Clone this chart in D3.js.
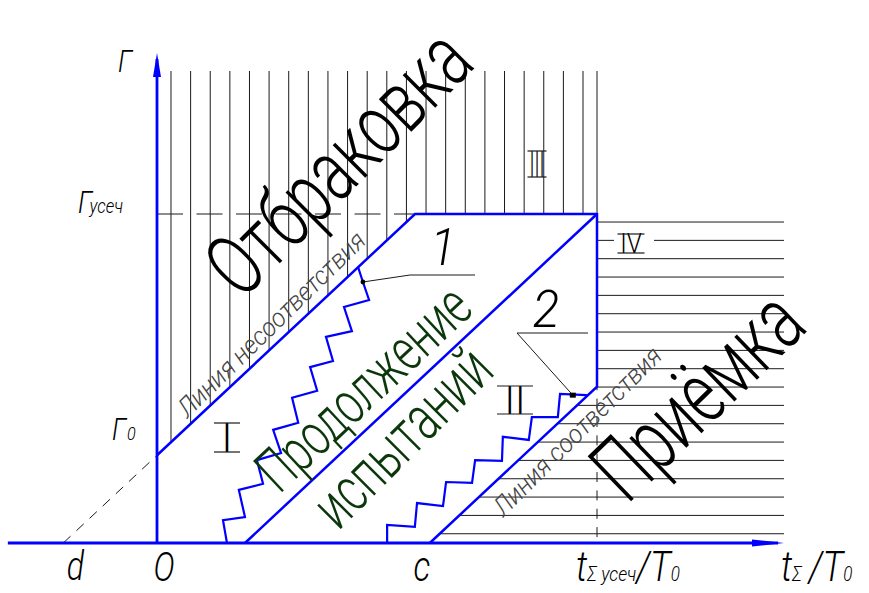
<!DOCTYPE html>
<html><head><meta charset="utf-8">
<script src="https://cdn.jsdelivr.net/npm/d3@7"></script>
<style>body{margin:0;background:#fff}</style>
</head><body>
<svg id="chart" width="869" height="593"></svg>
<script>
// ---- values on the chart (t/T0 along x, Γ along y) ----
const tScaleDomain = [0, 10];
const gammaScaleDomain = [0, 7.5];

// marked points on the time axis: d, O, c, tΣусеч/T0
const tMarks = [-2.13, 0, 6.2, 10];
// marked levels on the Γ axis: Γ0, Γусеч
const gammaMarks = [2.0, 7.5];
// slope shared by the boundary lines (ΔΓ per unit t/T0)
const boundarySlope = 0.938;
// centre line of the continuation band
const midLineT = [2.0, 10];
const midLineG = [0, 7.5];

// trial path 1 – crosses the non-conformity line
const path1T = [1.59, 1.50, 2.00, 1.86, 2.41, 2.27, 2.82, 2.64, 3.21, 3.07, 3.64, 3.48, 4.00, 3.84, 4.43, 4.25, 4.82, 4.68, 4.57];
const path1G = [0.00, 0.52, 0.59, 1.21, 1.35, 1.89, 2.05, 2.58, 2.74, 3.31, 3.47, 4.01, 4.15, 4.70, 4.83, 5.38, 5.54, 5.95, 6.29];
// trial path 2 – crosses the conformity line
const path2T = [5.23, 5.23, 5.86, 5.91, 6.50, 6.57, 7.16, 7.23, 7.84, 7.86, 8.45, 8.52, 9.11, 9.16, 9.77];
const path2G = [0.00, 0.41, 0.37, 0.91, 0.84, 1.39, 1.37, 1.89, 1.87, 2.42, 2.35, 2.87, 2.87, 3.40, 3.37];
// leader anchors of the path markers
const path1Marker = [4.68, 5.95];
const path2Marker = [9.45, 3.37];

// region names
const regionNames = ["Отбраковка", "Продолжение", "испытаний", "Приёмка"];
const lineNames = ["Линия несоответствия", "Линия соответствия"];
const romanZones = ["I", "II", "III", "IV"];

// ---- drawing ----
const svg = d3.select("#chart");
const x = d3.scaleLinear().domain(tScaleDomain).range([157, 597]);
const y = d3.scaleLinear().domain(gammaScaleDomain).range([543, 214]);

const BLUE = "#0000ff";
const INK = "#1a1a1a";
const FONT = "Roboto, 'DejaVu Sans', sans-serif";

const [dT, oT, cT, tCut] = tMarks;
const [g0, gCut] = gammaMarks;
const tReject = (gCut - g0) / boundarySlope;       // rejection line meets Γусеч
const gAccept = boundarySlope * (tCut - cT);        // acceptance line meets tΣусеч
const tAxisEnd = 14.25, gAxisEnd = 11.17, gHatchTop = 10.76, tAxisStart = -3.39;

const line = d3.line().x(d => x(d[0])).y(d => y(d[1]));

// vertical hatching – rejection zone
const vStep = 0.4459;
const vHatch = d3.range(22).map(k => 0.318 + vStep * k);
svg.append("g").selectAll("line").data(vHatch).join("line")
  .attr("x1", t => x(t)).attr("x2", t => x(t))
  .attr("y1", y(gHatchTop))
  .attr("y2", t => y(Math.min(g0 + boundarySlope * t, gCut)))
  .attr("stroke", INK).attr("stroke-width", 1);
svg.append("line").attr("x1", x(tCut)).attr("x2", x(tCut))
  .attr("y1", y(gHatchTop)).attr("y2", y(gCut)).attr("stroke", INK).attr("stroke-width", 1);

// horizontal hatching – acceptance zone
const hStep = 0.418;
const hHatch = d3.range(18).map(k => 0.211 + hStep * k);
svg.append("g").selectAll("line").data(hHatch).join("line")
  .attr("x1", g => x(g >= gAccept ? tCut : cT + g / boundarySlope))
  .attr("x2", x(tAxisEnd))
  .attr("y1", g => y(g)).attr("y2", g => y(g))
  .attr("stroke", INK).attr("stroke-width", 1);

// dashed guides
svg.append("line").attr("x1", x(oT)).attr("x2", x(tReject))
  .attr("y1", y(gCut)).attr("y2", y(gCut))
  .attr("stroke", INK).attr("stroke-width", 1).attr("stroke-dasharray", "26 13.5");
svg.append("line").attr("x1", x(dT)).attr("y1", y(0)).attr("x2", x(oT)).attr("y2", y(g0))
  .attr("stroke", INK).attr("stroke-width", 1).attr("stroke-dasharray", "10 8");
svg.append("line").attr("x1", x(tCut)).attr("x2", x(tCut))
  .attr("y1", y(gAccept)).attr("y2", y(0))
  .attr("stroke", INK).attr("stroke-width", 1).attr("stroke-dasharray", "10 8.35")
  .attr("stroke-dashoffset", 6.35);

// white plate behind zone IV
svg.append("rect").attr("x", 614).attr("y", 231).attr("width", 40).attr("height", 25).attr("fill", "#fff");

// boundary of the continuation zone
const boundary = [[oT, g0], [tReject, gCut], [tCut, gCut], [tCut, gAccept], [cT, 0]];
svg.append("path").attr("d", line(boundary)).attr("fill", "none")
  .attr("stroke", BLUE).attr("stroke-width", 2.5).attr("stroke-linejoin", "miter");
svg.append("path").attr("d", line(midLineT.map((t, i) => [t, midLineG[i]])))
  .attr("fill", "none").attr("stroke", BLUE).attr("stroke-width", 2.5);

// trial paths
[[path1T, path1G], [path2T, path2G]].forEach(([ts, gs]) => {
  svg.append("path").attr("d", line(ts.map((t, i) => [t, gs[i]])))
    .attr("fill", "none").attr("stroke", BLUE).attr("stroke-width", 2.2)
    .attr("stroke-linejoin", "miter");
});

// axes
svg.append("line").attr("x1", x(tAxisStart)).attr("x2", x(tAxisEnd) - 6)
  .attr("y1", y(0)).attr("y2", y(0)).attr("stroke", BLUE).attr("stroke-width", 2.8);
svg.append("line").attr("x1", x(0)).attr("x2", x(0))
  .attr("y1", y(0)).attr("y2", y(gAxisEnd) + 6).attr("stroke", BLUE).attr("stroke-width", 2.8);
svg.append("path").attr("fill", BLUE)
  .attr("d", `M${x(tAxisEnd)},${y(0)} L${x(tAxisEnd) - 32},${y(0) - 3.5} L${x(tAxisEnd) - 32},${y(0) + 3.5} Z`);
svg.append("path").attr("fill", BLUE)
  .attr("d", `M${x(0)},${y(gAxisEnd)} L${x(0) - 4},${y(gAxisEnd) + 24} L${x(0) + 4},${y(gAxisEnd) + 24} Z`);

// leaders and markers
svg.append("polyline").attr("fill", "none").attr("stroke", INK).attr("stroke-width", 1)
  .attr("points", [[x(path1Marker[0]), y(path1Marker[1])], [410, 275], [475, 275]].join(" "));
svg.append("circle").attr("cx", x(path1Marker[0])).attr("cy", y(path1Marker[1])).attr("r", 2.4).attr("fill", "#000");
svg.append("polyline").attr("fill", "none").attr("stroke", INK).attr("stroke-width", 1)
  .attr("points", [[x(path2Marker[0]), y(path2Marker[1])], [517, 333], [588, 333]].join(" "));
svg.append("rect").attr("x", x(path2Marker[0]) - 3).attr("y", y(path2Marker[1]) - 2.5)
  .attr("width", 6).attr("height", 5).attr("fill", "#000");

// text helper
function txt(str, px, py, size, opts = {}) {
  const t = svg.append("text")
    .attr("transform", `translate(${px},${py}) rotate(${opts.rot || 0}) scale(${opts.sx || 1},1)`)
    .attr("font-family", FONT).attr("font-size", size)
    .attr("font-weight", opts.weight || 300)
    .attr("font-style", opts.italic ? "italic" : "normal")
    .attr("fill", opts.fill || "#000")
    .attr("text-anchor", opts.anchor || "start")
    .text(str);
  if (opts.dy) t.attr("dy", opts.dy);
  return t;
}

// path numbers
txt("1", 443, 265, 52, { italic: true, anchor: "middle", sx: 0.9 });
txt("2", 546, 327, 52, { italic: true, anchor: "middle", sx: 0.95 });

// zone numerals with bars
function roman(label, cx, top, bottom, w) {
  const h = bottom - top;
  const t = svg.append("text").attr("text-anchor", "middle")
    .attr("font-family", FONT).attr("font-weight", 300).attr("font-size", h / 0.711)
    .attr("fill", "#000").text(label);
  const len = t.node().getComputedTextLength();
  const sx = Math.min(1, (w * 0.8) / len);
  t.attr("transform", `translate(${cx},${bottom}) scale(${sx},1)`);
  [top, bottom].forEach(yy => svg.append("line").attr("x1", cx - w / 2).attr("x2", cx + w / 2)
    .attr("y1", yy).attr("y2", yy).attr("stroke", INK).attr("stroke-width", 1.2));
}
roman(romanZones[0], 227, 423, 452, 26);
roman(romanZones[1], 515, 386, 414, 36);
roman(romanZones[2], 537, 151, 177, 19);
roman(romanZones[3], 631, 234, 253, 27);

// axis labels
const axisLab = { italic: true, sx: 0.85 };
txt("Γ", 125, 72, 31, { ...axisLab, anchor: "middle" });
const gc = txt("Γ", 78, 213, 31, axisLab);
gc.append("tspan").attr("font-size", 20).attr("dx", -3).text("усеч");
const g0l = txt("Γ", 112, 440, 31, axisLab);
g0l.append("tspan").attr("font-size", 19).attr("dx", 1).text("0");

const bigLab = { italic: true, sx: 0.8, anchor: "middle" };
txt("d", x(dT) + 12, 580, 40, bigLab);
txt("O", x(oT) + 7, 581, 40, bigLab);
txt("c", x(cT) - 8, 581, 42, bigLab);

const tc = txt("t", 576, 581, 42, axisLab);
tc.append("tspan").attr("font-size", 21).text("Σ усеч");
tc.append("tspan").attr("font-size", 42).text("/T");
tc.append("tspan").attr("font-size", 20).text("0");
const tt = txt("t", 781, 581, 42, axisLab);
tt.append("tspan").attr("font-size", 21).text("Σ ");
tt.append("tspan").attr("font-size", 42).attr("dx", 3).text("/T");
tt.append("tspan").attr("font-size", 20).text("0");

// region names
const regionStyle = { sx: 0.7, anchor: "middle", weight: 300, dy: "0.3em" };
txt(regionNames[0], 341, 165, 87, { ...regionStyle, rot: -45 });
txt(regionNames[1], 365, 390, 60, { ...regionStyle, rot: -43, fill: "#0a380a" });
txt(regionNames[2], 404, 439, 63, { ...regionStyle, rot: -45, fill: "#0a380a" });
txt(regionNames[3], 700, 398, 88, { ...regionStyle, rot: -44 });

// boundary line names
const nameStyle = { sx: 0.95, anchor: "middle", italic: true, weight: 300, fill: "#444", dy: "0.3em" };
txt(lineNames[0], 272, 325, 26, { ...nameStyle, rot: -44.5 });
txt(lineNames[1], 578, 432, 26, { ...nameStyle, rot: -45 });
</script>
</body></html>
